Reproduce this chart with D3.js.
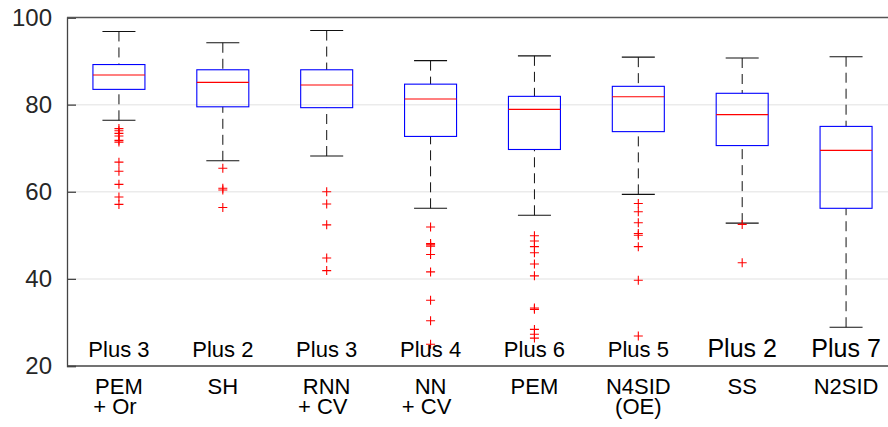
<!DOCTYPE html>
<html>
<head>
<meta charset="utf-8">
<script src="https://cdn.jsdelivr.net/npm/d3@7"></script>
<style>
  body { margin: 0; background: #fff; }
  svg { display: block; font-family: "Liberation Sans", Arial, Helvetica, sans-serif; }
</style>
</head>
<body>
<script>
// methods along the x axis (each may have a second line)
var methods = [["PEM", "+ Or"], ["SH"], ["RNN", "+ CV"], ["NN", "+ CV"], ["PEM"], ["N4SID", "(OE)"], ["SS"], ["N2SID"]];
var plusLabels = ["Plus 3", "Plus 2", "Plus 3", "Plus 4", "Plus 6", "Plus 5", "Plus 2", "Plus 7"];
var plusBig = [false, false, false, false, false, false, true, true];

// box statistics
var whiskerHigh = [96.8, 94.2, 97.0, 90.1, 91.2, 90.9, 90.7, 91.0];
var q3 = [89.2, 88.0, 88.0, 84.7, 81.9, 84.2, 82.6, 75.0];
var medians = [86.8, 85.1, 84.5, 81.3, 78.9, 81.8, 77.7, 69.5];
var q1 = [83.5, 79.5, 79.3, 72.7, 69.7, 73.8, 70.6, 56.2];
var whiskerLow = [76.4, 67.1, 68.2, 56.2, 54.6, 59.4, 52.8, 28.9];

var outliers = [
  [74.5, 74.0, 73.4, 72.8, 71.8, 71.4, 66.8, 64.7, 61.7, 58.8, 57.1],
  [65.4, 60.8, 60.4, 56.4],
  [60.0, 57.2, 52.4, 44.8, 41.9],
  [51.9, 48.1, 47.8, 47.5, 45.6, 41.6, 35.1, 30.4, 25.0],
  [49.9, 48.7, 47.4, 46.0, 43.4, 40.7, 33.3, 33.0, 28.4, 27.3, 26.4],
  [57.3, 55.4, 52.9, 50.4, 50.0, 47.4, 39.7, 26.9],
  [52.5, 43.7],
  []
];

var yTicks = [20, 40, 60, 80, 100];

var width = 888, height = 427;
var svg = d3.select("body").append("svg")
  .attr("width", width)
  .attr("height", height);

var x = d3.scaleLinear().domain([0.5, 8.5]).range([67, 898]);
var y = d3.scaleLinear().domain([20, 100]).range([366, 17.5]);

var boxW = 52, capW = 33;

// grid
svg.append("g").selectAll("line")
  .data(yTicks.slice(1, -1))
  .enter().append("line")
  .attr("x1", x(0.5)).attr("x2", x(8.5))
  .attr("y1", function(d) { return y(d); })
  .attr("y2", function(d) { return y(d); })
  .attr("stroke", "#ebebeb")
  .attr("stroke-width", 1.5);

// left axis
var yAxis = d3.axisLeft(y).tickValues(yTicks).tickSize(-9).tickPadding(15);
var gy = svg.append("g")
  .attr("transform", "translate(" + x(0.5) + ",0)")
  .call(yAxis);
gy.select(".domain").attr("stroke", "#444").attr("stroke-width", 1.3);
gy.selectAll(".tick line").attr("stroke", "#444").attr("stroke-width", 1.3);
gy.selectAll(".tick text")
  .attr("font-size", 24)
  .attr("fill", "#262626")
  .attr("font-family", "Liberation Sans, Arial, sans-serif");

// top and bottom frame lines
svg.append("line")
  .attr("x1", x(0.5)).attr("x2", x(8.5))
  .attr("y1", y(100)).attr("y2", y(100))
  .attr("stroke", "#555").attr("stroke-width", 1.5);
svg.append("line")
  .attr("x1", x(0.5)).attr("x2", x(8.5))
  .attr("y1", y(20)).attr("y2", y(20))
  .attr("stroke", "#444").attr("stroke-width", 1.5);

var idx = d3.range(methods.length);
var boxes = svg.append("g").selectAll("g")
  .data(idx)
  .enter().append("g");

// whiskers (dashed)
boxes.append("line")
  .attr("x1", function(i) { return x(i + 1); })
  .attr("x2", function(i) { return x(i + 1); })
  .attr("y1", function(i) { return y(whiskerHigh[i]); })
  .attr("y2", function(i) { return y(q3[i]); })
  .attr("stroke", "#111").attr("stroke-width", 1)
  .attr("stroke-dasharray", "10,6");
boxes.append("line")
  .attr("x1", function(i) { return x(i + 1); })
  .attr("x2", function(i) { return x(i + 1); })
  .attr("y1", function(i) { return y(whiskerLow[i]); })
  .attr("y2", function(i) { return y(q1[i]); })
  .attr("stroke", "#111").attr("stroke-width", 1)
  .attr("stroke-dasharray", "10,6");

// caps
[whiskerHigh, whiskerLow].forEach(function(arr) {
  boxes.append("line")
    .attr("x1", function(i) { return x(i + 1) - capW / 2; })
    .attr("x2", function(i) { return x(i + 1) + capW / 2; })
    .attr("y1", function(i) { return y(arr[i]); })
    .attr("y2", function(i) { return y(arr[i]); })
    .attr("stroke", "#111").attr("stroke-width", 1.1);
});

// box
boxes.append("rect")
  .attr("x", function(i) { return x(i + 1) - boxW / 2; })
  .attr("y", function(i) { return y(q3[i]); })
  .attr("width", boxW)
  .attr("height", function(i) { return y(q1[i]) - y(q3[i]); })
  .attr("fill", "none")
  .attr("stroke", "#0000ff").attr("stroke-width", 1.1);

// median
boxes.append("line")
  .attr("x1", function(i) { return x(i + 1) - boxW / 2; })
  .attr("x2", function(i) { return x(i + 1) + boxW / 2; })
  .attr("y1", function(i) { return y(medians[i]); })
  .attr("y2", function(i) { return y(medians[i]); })
  .attr("stroke", "#ff0000").attr("stroke-width", 1.1);

// outliers as + markers
boxes.selectAll("path.out")
  .data(function(i) { return outliers[i].map(function(v) { return {i: i, v: v}; }); })
  .enter().append("path")
  .attr("class", "out")
  .attr("d", function(d) {
    var cx = x(d.i + 1), cy = y(d.v), s = 4.5;
    return "M" + (cx - s) + "," + cy + "h" + (2 * s) + "M" + cx + "," + (cy - s) + "v" + (2 * s);
  })
  .attr("stroke", "#ff0000").attr("stroke-width", 1.1).attr("fill", "none");

// "Plus N" labels
boxes.append("text")
  .attr("x", function(i) { return x(i + 1); })
  .attr("y", 357)
  .attr("text-anchor", "middle")
  .attr("font-size", function(i) { return plusBig[i] ? 25 : 22; })
  .attr("fill", "#000")
  .text(function(i) { return plusLabels[i]; });

// category labels
boxes.each(function(i) {
  var g = d3.select(this);
  methods[i].forEach(function(line, k) {
    g.append("text")
      .attr("x", x(i + 1) + (line.charAt(0) === "+" ? -4 : 0))
      .attr("y", 394 + k * 19.5)
      .attr("text-anchor", "middle")
      .attr("font-size", 22)
      .attr("fill", "#000")
      .text(line);
  });
});
</script>
</body>
</html>
